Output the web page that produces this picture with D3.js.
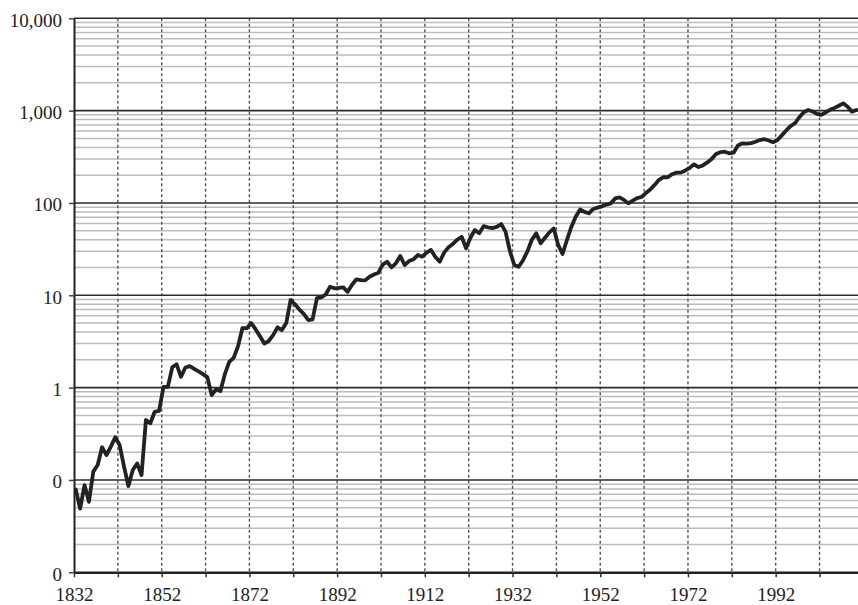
<!DOCTYPE html>
<html>
<head>
<meta charset="utf-8">
<script src="https://cdn.jsdelivr.net/npm/d3@7"></script>
<style>
  body { margin: 0; background: #fff; }
  svg { display: block; }
  text { font-family: "Liberation Serif", "Times New Roman", serif; }
</style>
</head>
<body>
<svg id="graphic-svg" width="858" height="605"></svg>
<script>
// annual values, 1832 .. 2010 (log scale)
var startYear = 1832;
var values = [
  0.079, 0.049, 0.088, 0.058, 0.123, 0.145, 0.226, 0.186, 0.23, 0.29,   // 1832-1841
  0.239, 0.14, 0.086, 0.128, 0.151, 0.113, 0.446, 0.411, 0.548, 0.56,    // 1842-1851
  1.02, 1.02, 1.66, 1.79, 1.31, 1.65, 1.71, 1.6, 1.5, 1.4,               // 1852-1861
  1.3, 0.83, 0.96, 0.92, 1.4, 1.9, 2.1, 2.8, 4.4, 4.4,                   // 1862-1871
  5.0, 4.3, 3.6, 3.0, 3.2, 3.7, 4.5, 4.2, 5.0, 8.9,                      // 1872-1881
  8.0, 7.0, 6.3, 5.4, 5.5, 9.3, 9.5, 10.2, 12.4, 11.9,                   // 1882-1891
  12.0, 12.2, 10.9, 13.0, 14.9, 14.6, 14.5, 15.9, 16.8, 17.6,            // 1892-1901
  21.5, 23.1, 20.1, 22.2, 26.6, 21.3, 23.5, 24.5, 27.3, 26.2,            // 1902-1911
  29, 31, 26, 23.1, 29, 33.1, 36, 40, 43.1, 32.3,                        // 1912-1921
  42, 50.9, 46.9, 56, 54.5, 53.5, 55, 59.2, 48.9, 30,                    // 1922-1931
  21.3, 20.4, 24, 30, 40, 46.9, 36.6, 42, 48, 53,                        // 1932-1941
  35.1, 28, 39.7, 55, 71, 85, 80, 77.3, 86.1, 89,                        // 1942-1951
  92, 96, 99, 112, 115, 108, 99, 106, 113, 116,                          // 1952-1961
  128, 140, 157, 178, 190, 190, 205, 213, 213, 225,                      // 1962-1971
  240, 262, 245, 255, 275, 300, 340, 355, 359, 345,                      // 1972-1981
  350, 420, 443, 440, 445, 460, 480, 490, 475, 455,                      // 1982-1991
  480, 540, 610, 680, 730, 850, 960, 1016, 980, 920,                     // 1992-2001
  900, 960, 1020, 1070, 1130, 1200, 1100, 975, 1016                      // 2002-2010
];
var years = values.map(function(d, i) { return startYear + i; });

var yTicks = [0.01, 0.1, 1, 10, 100, 1000, 10000];
var xTickYears = d3.range(1832, 2011, 10);
var xLabelYears = [1832, 1852, 1872, 1892, 1912, 1932, 1952, 1972, 1992];

function init() {
  var svg = d3.select("#graphic-svg");
  var width = 858, height = 605;
  var margin = { left: 74, right: -1, top: 18.3, bottom: 32.7 };

  var x = d3.scaleLinear()
    .domain([1832, 2011])
    .range([margin.left, width - margin.right]);
  var y = d3.scaleLog()
    .domain([0.01, 10000])
    .range([height - margin.bottom, margin.top]);

  // minor gridlines (2..9 in each decade)
  var minor = [];
  yTicks.slice(0, -1).forEach(function(d) {
    for (var k = 2; k <= 9; k++) minor.push(d * k);
  });
  svg.append("g")
     .selectAll("line")
     .data(minor)
     .enter()
     .append("line")
     .attr("x1", margin.left)
     .attr("x2", width)
     .attr("y1", function(d) { return y(d); })
     .attr("y2", function(d) { return y(d); })
     .attr("stroke", "#bcbcbc")
     .attr("stroke-width", 1.5);

  // vertical dashed lines, every 10 years
  svg.append("g")
     .selectAll("line")
     .data(xTickYears.slice(1))
     .enter()
     .append("line")
     .attr("x1", function(d) { return x(d); })
     .attr("x2", function(d) { return x(d); })
     .attr("y1", margin.top)
     .attr("y2", height - margin.bottom)
     .attr("stroke", "#555")
     .attr("stroke-width", 1.4)
     .attr("stroke-dasharray", "3,2.5");

  // major gridlines (decades)
  svg.append("g")
     .selectAll("line")
     .data(yTicks.slice(1))
     .enter()
     .append("line")
     .attr("x1", margin.left)
     .attr("x2", width)
     .attr("y1", function(d) { return y(d); })
     .attr("y2", function(d) { return y(d); })
     .attr("stroke", "#2a2a2a")
     .attr("stroke-width", 1.6);

  // axes
  var yAxis = d3.axisLeft(y)
    .tickValues(yTicks)
    .tickFormat(d3.format(",.0f"))
    .tickSize(5)
    .tickSizeOuter(0)
    .tickPadding(7);
  var gy = svg.append("g")
     .attr("transform", "translate(" + margin.left + ",0)")
     .call(yAxis);
  gy.select(".domain").attr("stroke", "#222").attr("stroke-width", 2);
  gy.selectAll(".tick line").attr("stroke", "#444").attr("stroke-width", 1.5);
  gy.selectAll("text")
    .attr("dy", "0.42em")
    .attr("font-size", 19)
    .attr("font-family", "'Liberation Serif', serif")
    .attr("fill", "#222");

  var xAxis = d3.axisBottom(x)
    .tickValues(xTickYears)
    .tickFormat(function(d) { return xLabelYears.indexOf(d) >= 0 ? d : ""; })
    .tickSize(5)
    .tickSizeOuter(0)
    .tickPadding(10);
  var gx = svg.append("g")
     .attr("transform", "translate(0," + (height - margin.bottom) + ")")
     .call(xAxis);
  gx.select(".domain").attr("stroke", "#222").attr("stroke-width", 2.6);
  gx.selectAll(".tick line").attr("stroke", "#333").attr("stroke-width", 1.5);
  gx.selectAll("text")
    .attr("font-size", 19)
    .attr("font-family", "'Liberation Serif', serif")
    .attr("fill", "#222");

  // the series (drawn at mid-year)
  var line = d3.line()
    .x(function(d, i) { return x(years[i] + 0.4); })
    .y(function(d) { return y(d); });
  svg.append("path")
     .datum(values)
     .attr("d", line)
     .attr("fill", "none")
     .attr("stroke", "#222")
     .attr("stroke-width", 3.8)
     .attr("stroke-linejoin", "round")
     .attr("stroke-linecap", "round");
}

init();
</script>
</body>
</html>
